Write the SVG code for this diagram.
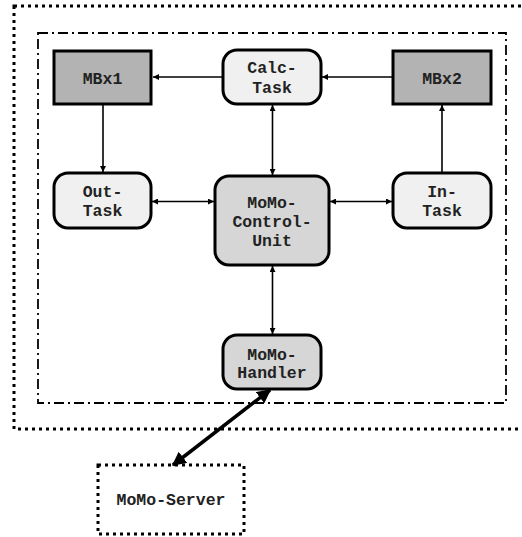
<svg xmlns="http://www.w3.org/2000/svg" width="522" height="537" viewBox="0 0 522 537">
<style>
.t{font-family:"Liberation Mono","Courier New",monospace;font-weight:bold;font-size:16.5px;fill:#222;text-anchor:middle}
.mb{fill:#b3b3b3;stroke:#000;stroke-width:3}
.lt{fill:#f0f0f0;stroke:#000;stroke-width:3}
.dk{fill:#d6d6d6;stroke:#000;stroke-width:3}
.c{stroke:#000;stroke-width:1.6;fill:none}
</style>
<defs>
<marker id="ah" viewBox="0 0 10 10" refX="10" refY="5" markerWidth="6" markerHeight="6" orient="auto-start-reverse" markerUnits="userSpaceOnUse">
<path d="M0,0L10,5L0,10z" fill="#000"/>
</marker>
<marker id="ah2" viewBox="0 0 10 10" refX="9" refY="5" markerWidth="14" markerHeight="14" orient="auto-start-reverse" markerUnits="userSpaceOnUse">
<path d="M0,0L10,5L0,10z" fill="#000"/>
</marker>
</defs>
<g id="outer"><rect x="14" y="6" width="520" height="423" fill="none" stroke="#000" stroke-width="3" stroke-dasharray="3,4"/></g>
<g id="inner"><rect x="38" y="33" width="468" height="370" fill="none" stroke="#000" stroke-width="1.8" stroke-dasharray="10,4,2,4"/></g>
<g id="connectors">
<line class="c" x1="223" y1="77" x2="153" y2="77" marker-end="url(#ah)"/>
<line class="c" x1="393" y1="77" x2="322" y2="77" marker-end="url(#ah)"/>
<line class="c" x1="103" y1="105" x2="103" y2="172" marker-end="url(#ah)"/>
<line class="c" x1="442" y1="172" x2="442" y2="105" marker-end="url(#ah)"/>
<line class="c" x1="272.5" y1="105" x2="272.5" y2="175" marker-start="url(#ah)" marker-end="url(#ah)"/>
<line class="c" x1="152" y1="201.5" x2="214" y2="201.5" marker-start="url(#ah)" marker-end="url(#ah)"/>
<line class="c" x1="330" y1="201.5" x2="392" y2="201.5" marker-start="url(#ah)" marker-end="url(#ah)"/>
<line class="c" x1="272.5" y1="266" x2="272.5" y2="334" marker-start="url(#ah)" marker-end="url(#ah)"/>
<line x1="270" y1="390" x2="173" y2="465" stroke="#000" stroke-width="3.5" marker-start="url(#ah2)" marker-end="url(#ah2)"/>
</g>
<g id="MBx1"><rect class="mb" x="54" y="51" width="97" height="53"/><text class="t" x="102.5" y="84">MBx1</text></g>
<g id="MBx2"><rect class="mb" x="393" y="51" width="98" height="53"/><text class="t" x="442" y="84">MBx2</text></g>
<g id="CalcTask"><rect class="lt" x="223" y="50" width="98" height="54" rx="14"/><text class="t" x="272" y="73">Calc-</text><text class="t" x="272" y="93">Task</text></g>
<g id="OutTask"><rect class="lt" x="54" y="173" width="97" height="55" rx="14"/><text class="t" x="102.5" y="197">Out-</text><text class="t" x="102.5" y="216">Task</text></g>
<g id="InTask"><rect class="lt" x="393" y="173" width="98" height="55" rx="14"/><text class="t" x="442" y="197">In-</text><text class="t" x="442" y="216">Task</text></g>
<g id="ControlUnit"><rect class="dk" x="215" y="176" width="114" height="89" rx="14"/><text class="t" x="272" y="208">MoMo-</text><text class="t" x="272" y="227">Control-</text><text class="t" x="272" y="246">Unit</text></g>
<g id="Handler"><rect class="dk" x="223" y="335" width="98" height="54" rx="14"/><text class="t" x="272" y="360">MoMo-</text><text class="t" x="272" y="378">Handler</text></g>
<g id="Server"><rect x="98" y="465" width="146" height="69" fill="none" stroke="#000" stroke-width="3" stroke-dasharray="3,4"/><text class="t" x="171" y="505">MoMo-Server</text></g>
</svg>
